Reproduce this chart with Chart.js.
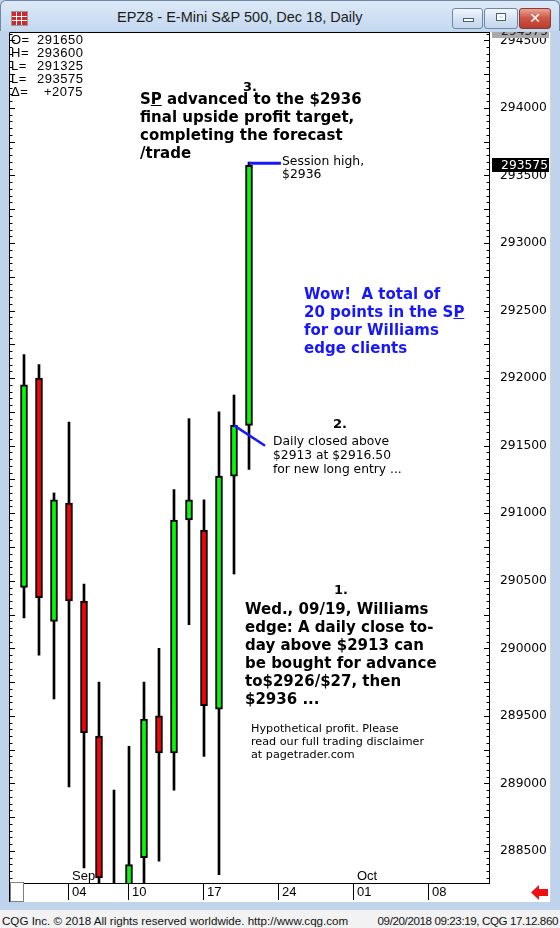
<!DOCTYPE html>
<html>
<head>
<meta charset="utf-8">
<title>EPZ8 - E-Mini S&amp;P 500, Dec 18, Daily</title>
<script src="https://cdn.jsdelivr.net/npm/chart.js@4.4.0/dist/chart.umd.min.js"></script>
<style>
  html, body { margin: 0; padding: 0; }
  body {
    width: 560px; height: 928px; overflow: hidden; position: relative;
    background: #bfd4ec; font-family: "DejaVu Sans", sans-serif; color: #000;
  }
  #titlebar {
    position: absolute; left: 0; top: 0; width: 558px; height: 30px;
    background: linear-gradient(#dde9f7, #c3d8ef);
    border: 1px solid #6f86a6; border-bottom: none; border-radius: 6px 6px 0 0;
  }
  #title {
    position: absolute; left: 116px; top: 8px; font: 14.5px "Liberation Sans", sans-serif;
    color: #1b1b1b; white-space: nowrap;
  }
  #icon {
    position: absolute; left: 10px; top: 10px; width: 15px; height: 13px;
    background:
      linear-gradient(90deg, transparent 0 4px, #fff 4px 5px, transparent 5px 9px, #fff 9px 10px, transparent 10px),
      linear-gradient(transparent 0 4px, #fff 4px 5px, transparent 5px 8px, #fff 8px 9px, transparent 9px),
      #d2262c;
    border: 1px solid #9a9a9a;
  }
  .btn {
    position: absolute; top: 7px; height: 19px; border: 1px solid #6e87a8; border-radius: 3px;
    background: linear-gradient(#f2f7fc, #d5e3f3 50%, #c3d6ec);
  }
  #bmin { left: 451px; width: 29px; }
  #bmax { left: 483px; width: 32px; }
  #bclose { left: 518px; width: 30px; border-color: #8b3a30; background: linear-gradient(#e9a497, #cf5a49 45%, #b93b2b); }
  #bmin i { position: absolute; left: 10px; top: 9px; width: 9px; height: 2px; background: #fff; border: 1px solid #4c5f78; }
  #bmax i { position: absolute; left: 11px; top: 4px; width: 8px; height: 6px; border: 1px solid #4c5f78; box-shadow: inset 0 0 0 2px #fff; }
  #bclose span { position: absolute; left: 0; width: 30px; top: 0; text-align: center; color: #fff; font: bold 14px "DejaVu Sans"; line-height: 19px; }
  #panel {
    position: absolute; left: 9px; top: 32px; width: 541px; height: 870px; background: #fff;
    box-shadow: 1px 0 0 #cfd6de;
  }
  #cornerbox {
    position: absolute; left: 10px; top: 882px; width: 12px; height: 18px; border: 1px solid #808080; background: #fff; z-index: 3;
  }
  #status {
    position: absolute; left: 0; top: 910px; width: 560px; height: 18px; background: #f2f2f2;
    font: 11.6px "Liberation Sans", sans-serif; color: #111; white-space: nowrap;
  }
  #status .l { position: absolute; left: 2px; top: 4px; }
  #status .r { position: absolute; right: 2px; top: 4px; letter-spacing: -0.4px; }
  canvas { position: absolute; left: 0; top: 0; z-index: 2; }
  .ann { position: absolute; z-index: 4; white-space: pre; }
  .big { font: bold 15px/18px "DejaVu Sans", sans-serif; }
  .num { font: bold 13px/15px "DejaVu Sans", sans-serif; }
  .small { font: 12.3px/14px "DejaVu Sans", sans-serif; }
  .tiny { font: 11.2px/13.2px "DejaVu Sans", sans-serif; }
  .blue { color: #1717ff; }
  #ohlc { position: absolute; left: 11px; top: 33px; z-index: 4; font: 13px/13px "Liberation Sans", sans-serif; letter-spacing: 0.5px; }
  #ohlc span { display: inline-block; }
  #ohlc .k { width: 26px; }
  #ohlc .v { width: 46px; text-align: right; }
  #arrow { position: absolute; left: 531px; top: 885px; z-index: 4; }
</style>
</head>
<body>
<div id="titlebar">
  <div id="icon"></div>
  <div id="title">EPZ8 - E-Mini S&amp;P 500, Dec 18, Daily</div>
  <div class="btn" id="bmin"><i></i></div>
  <div class="btn" id="bmax"><i></i></div>
  <div class="btn" id="bclose"><span>✕</span></div>
</div>
<div id="panel"></div>
<div id="cornerbox"></div>
<canvas id="chart" width="560" height="928"></canvas>

<div id="ohlc">
  <div><span class="k">O=</span><span class="v">291650</span></div>
  <div><span class="k">H=</span><span class="v">293600</span></div>
  <div><span class="k">L=</span><span class="v">291325</span></div>
  <div><span class="k">L=</span><span class="v">293575</span></div>
  <div><span class="k">Δ=</span><span class="v">+2075</span></div>
</div>

<div class="ann num" style="left:243px;top:79px">3.</div>
<div class="ann big" style="left:140px;top:90px">S<u>P</u> advanced to the $2936
final upside profit target,
completing the forecast
/trade</div>
<div class="ann" style="left:282px;top:154px;font:12.4px/13.3px 'DejaVu Sans',sans-serif">Session high,
$2936</div>
<div class="ann big blue" style="left:304px;top:285px">Wow!  A total of
20 points in the S<u>P</u>
for our Williams
edge clients</div>
<div class="ann num" style="left:333px;top:416px">2.</div>
<div class="ann small" style="left:273px;top:434px">Daily closed above
$2913 at $2916.50
for new long entry ...</div>
<div class="ann num" style="left:334px;top:582px">1.</div>
<div class="ann big" style="left:245px;top:600px">Wed., 09/19, Williams
edge: A daily close to-
day above $2913 can
be bought for advance
to$2926/$27, then
$2936 ...</div>
<div class="ann tiny" style="left:251px;top:722px">Hypothetical profit. Please
read our full trading disclaimer
at pagetrader.com</div>

<svg id="arrow" width="18" height="15" viewBox="0 0 18 15">
  <polygon points="0,7.5 8,0 8,4 17,4 17,11 8,11 8,15" fill="#ee1111"/>
</svg>

<div id="status">
  <span class="l">CQG Inc. © 2018 All rights reserved worldwide. http://www.cqg.com</span>
  <span class="r">09/20/2018 09:23:19, CQG 17.12.860</span>
</div>

<script>
// daily bars, prices shown the CQG way (2916.50 -> 291650)
const days = ['08/29', '08/30', '08/31', '09/04', '09/05', '09/06', '09/07', '09/10',
              '09/11', '09/12', '09/13', '09/14', '09/17', '09/18', '09/19', '09/20'];
const opens  = [290450, 292000, 290200, 291075, 290350, 289350, 287300, 287750,
                288450, 289500, 289225, 290950, 290875, 289550, 291275, 291650];
const highs  = [292175, 292100, 291150, 291675, 290475, 289750, 288950, 289275,
                289750, 290000, 291175, 291700, 291100, 291750, 291875, 293600];
const lows   = [290225, 289950, 289625, 288975, 288375, 287225, 286900, 287550,
                287200, 288425, 288950, 290175, 289200, 288325, 290550, 291325];
const closes = [291950, 290375, 291100, 290350, 289375, 288300, 287700, 288400,
                289475, 289225, 290950, 291100, 289575, 291275, 291650, 293575];

// axis labels
const xTickDays = [3, 7, 12, 17, 22, 27];
const xTickLabels = ['04', '10', '17', '24', '01', '08'];
const monthDays = [3, 22];
const monthLabels = ['Sep', 'Oct'];
const yTickValues = [288500, 289000, 289500, 290000, 290500, 291000, 291500,
                     292000, 292500, 293000, 293500, 294000, 294500];

// drawn annotations: [day, price]
const sessionHighLine = [[15, 293590], [17.13, 293590]];
const entryLine = [[14, 291650], [16.07, 291500]];

const green = '#00ff00';
const red = '#ff0000';
const annBlue = '#1717ff';

// extra CQG bits: minor y ticks, month names, annotation lines, last price box
const cqgDecor = {
    id: 'cqgDecor',
    afterDraw(chart) {
        const { ctx, chartArea: a } = chart;
        const xs = chart.scales.x;
        const ys = chart.scales.y;
        ctx.save();

        // pane frame
        ctx.strokeStyle = '#000';
        ctx.lineWidth = 1;
        ctx.beginPath();
        ctx.moveTo(9.5, 902);
        ctx.lineTo(9.5, 32.5);
        ctx.lineTo(a.right + 1, 32.5);
        ctx.stroke();

        // price ticks on both sides, long every 250, short every 50
        ctx.beginPath();
        for (let v = Math.ceil(ys.min / 50) * 50; v <= ys.max; v += 50) {
            const py = Math.round(ys.getPixelForValue(v)) + 0.5;
            const len = v % 250 === 0 ? 5 : 2.5;
            ctx.moveTo(a.right - len, py);
            ctx.lineTo(a.right, py);
            ctx.moveTo(a.left, py);
            ctx.lineTo(a.left + len, py);
        }
        ctx.stroke();

        // month names above the date axis
        ctx.fillStyle = '#000';
        ctx.font = '13px "Liberation Sans"';
        ctx.textBaseline = 'alphabetic';
        monthDays.forEach((d, i) => {
            ctx.fillText(monthLabels[i], xs.getPixelForValue(d) + 3, a.bottom - 3);
        });

        // annotation lines
        ctx.strokeStyle = annBlue;
        ctx.lineCap = 'butt';
        ctx.lineWidth = 3;
        ctx.beginPath();
        ctx.moveTo(xs.getPixelForValue(sessionHighLine[0][0]), ys.getPixelForValue(sessionHighLine[0][1]));
        ctx.lineTo(xs.getPixelForValue(sessionHighLine[1][0]), ys.getPixelForValue(sessionHighLine[1][1]));
        ctx.stroke();
        ctx.lineWidth = 2.5;
        ctx.beginPath();
        ctx.moveTo(xs.getPixelForValue(entryLine[0][0]), ys.getPixelForValue(entryLine[0][1]));
        ctx.lineTo(xs.getPixelForValue(entryLine[1][0]), ys.getPixelForValue(entryLine[1][1]));
        ctx.stroke();

        // top-of-scale marker (cut off)
        ctx.fillStyle = '#a9a9a9';
        ctx.fillRect(a.right + 3, a.top, 57, 6);
        ctx.save();
        ctx.beginPath();
        ctx.rect(a.right + 3, a.top, 57, 6);
        ctx.clip();
        ctx.fillStyle = '#222';
        ctx.font = '12.3px "DejaVu Sans"';
        ctx.textAlign = 'right';
        ctx.fillText('294575', a.right + 59, a.top + 3);
        ctx.restore();

        // last price box
        const last = closes[closes.length - 1];
        const ly = Math.round(ys.getPixelForValue(last));
        ctx.fillStyle = '#000';
        ctx.fillRect(a.right + 3, ly - 7, 57, 14);
        ctx.fillStyle = '#fff';
        ctx.font = '12.3px "DejaVu Sans"';
        ctx.textAlign = 'right';
        ctx.textBaseline = 'middle';
        ctx.fillText(String(last), a.right + 59, ly + 0.5);

        ctx.restore();
    }
};

document.addEventListener('DOMContentLoaded', () => {
    const ctx = document.getElementById('chart').getContext('2d');

    const bodies = days.map((d, i) => ({ x: i, y: [opens[i], closes[i]] }));
    const wicks = days.map((d, i) => ({ x: i, y: [lows[i], highs[i]] }));
    const bodyColors = days.map((d, i) => closes[i] >= opens[i] ? green : red);

    new Chart(ctx, {
        type: 'bar',
        data: {
            datasets: [
                {
                    label: 'body',
                    data: bodies,
                    backgroundColor: bodyColors,
                    borderColor: '#000',
                    borderWidth: 2,
                    borderSkipped: false,
                    barThickness: 7,
                    grouped: false,
                    order: 0
                },
                {
                    label: 'wick',
                    data: wicks,
                    backgroundColor: '#000',
                    borderWidth: 0,
                    barThickness: 2,
                    grouped: false,
                    order: 1
                }
            ]
        },
        options: {
            responsive: false,
            animation: false,
            events: [],
            layout: { padding: { left: 10, top: 32, right: 10, bottom: 25 } },
            plugins: {
                legend: { display: false },
                tooltip: { enabled: false }
            },
            scales: {
                x: {
                    type: 'linear',
                    bounds: 'data',
                    offset: false,
                    min: -0.933,
                    max: 31,
                    afterBuildTicks: (s) => { s.ticks = xTickDays.map(v => ({ value: v })); },
                    afterFit: (s) => { s.height = 20; },
                    grid: { offset: false, drawOnChartArea: false, drawTicks: true, tickLength: 17, color: '#000', lineWidth: 1 },
                    border: { display: true, color: '#000', width: 1 },
                    ticks: {
                        autoSkip: false,
                        maxRotation: 0,
                        align: 'start',
                        labelOffset: 3,
                        padding: -15,
                        color: '#000',
                        font: { family: 'Liberation Sans', size: 13 },
                        callback: (v, i) => xTickLabels[i]
                    }
                },
                y: {
                    position: 'right',
                    min: 288263,
                    max: 294562,
                    afterBuildTicks: (s) => { s.ticks = yTickValues.map(v => ({ value: v })); },
                    afterFit: (s) => { s.width = 61; },
                    grid: { drawOnChartArea: false, drawTicks: false },
                    border: { display: true, color: '#000', width: 1 },
                    ticks: {
                        autoSkip: false,
                        crossAlign: 'near',
                        padding: 11,
                        color: '#000',
                        font: { family: 'DejaVu Sans', size: 12.3 },
                        callback: (v) => String(v)
                    }
                }
            }
        },
        plugins: [cqgDecor]
    });
});
</script>
</body>
</html>
